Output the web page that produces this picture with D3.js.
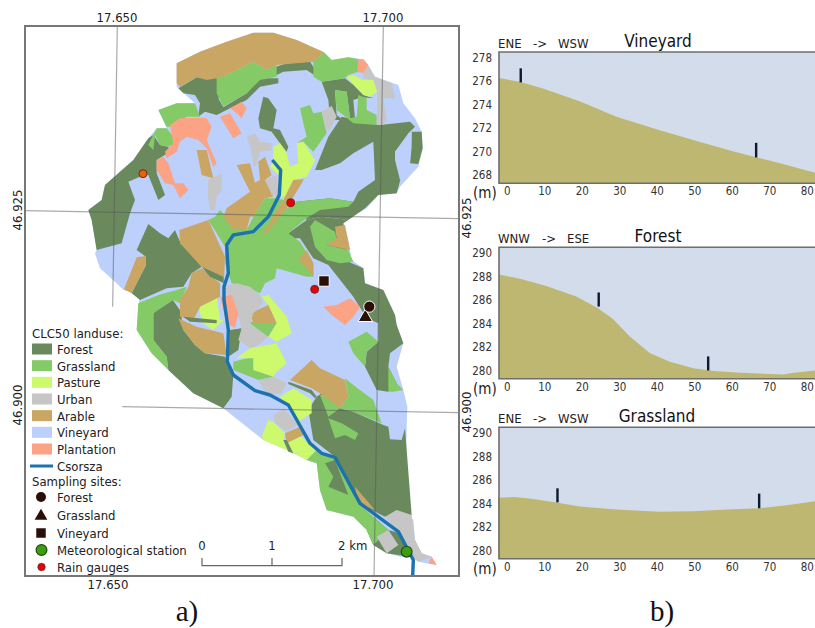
<!DOCTYPE html>
<html>
<head>
<meta charset="utf-8">
<script src="https://cdn.jsdelivr.net/npm/d3@7/dist/d3.min.js"></script>
<style>
    html, body { margin: 0; padding: 0; background: #fff; }
    text { font-family: "DejaVu Sans", sans-serif; font-stretch: condensed; }
    .serif { font-family: "Liberation Serif", serif; font-stretch: normal; }
</style>
</head>
<body>
<div id="chart"></div>
<script>
const outline = [[700,38],[760,38],[830,60],[912,97],[935,120],[985,112],[1030,118],[1045,135],[1065,170],[1135,195],[1150,250],[1185,295],[1205,335],[1208,385],[1195,440],[1140,500],[1130,520],[1075,525],[1040,565],[980,600],[970,610],[985,660],[995,720],[1030,745],[1035,790],[1090,810],[1125,885],[1130,915],[1150,970],[1130,1040],[1150,1110],[1162,1160],[1160,1225],[1155,1480],[1180,1500],[1185,1560],[1205,1600],[1235,1610],[1250,1635],[1195,1625],[1175,1610],[1140,1610],[1100,1600],[1060,1575],[1040,1530],[1000,1490],[920,1470],[900,1410],[890,1330],[860,1320],[800,1290],[730,1260],[610,1165],[520,1120],[445,1050],[395,1000],[350,930],[355,860],[360,825],[310,810],[290,790],[240,745],[225,700],[230,690],[215,600],[205,570],[245,540],[255,495],[340,420],[385,355],[410,325],[440,325],[415,270],[470,250],[525,250],[470,200],[470,130],[540,95],[620,65]];

const forest = [
    [[885,450],[925,350],[965,290],[1080,315],[1170,305],[1185,320],[1165,340],[1125,395],[1145,465],[1130,520],[1075,525],[1035,565],[985,600],[905,590],[860,600],[830,545]],
    [[985,600],[905,590],[860,600],[805,640],[805,655],[840,655],[880,715],[925,735],[1000,830],[1040,895],[1075,910],[1075,965],[1040,995],[1035,1040],[1070,1110],[1105,1115],[1130,1090],[1105,1040],[1110,1000],[1150,970],[1130,915],[1125,885],[1090,810],[1035,790],[1030,745],[985,725],[970,610]],
    [[475,205],[530,172],[590,172],[595,205],[610,210],[595,235],[610,262],[680,220],[720,175],[775,175],[775,190],[720,200],[680,240],[630,265],[590,285],[555,275],[535,290],[540,250],[525,225],[490,220]],
    [[205,570],[245,540],[255,495],[340,420],[385,355],[400,345],[420,375],[445,380],[450,395],[410,420],[410,460],[435,525],[415,540],[385,465],[360,470],[325,485],[345,540],[330,580],[305,670],[230,690],[215,600]],
    [[755,145],[800,130],[870,125],[890,155],[975,125],[975,135],[890,170],[860,150],[790,155],[770,165]],
    [[905,185],[975,175],[1000,195],[1030,225],[1060,235],[1025,232],[1000,240],[1005,295],[990,295],[980,215],[945,210],[950,285],[970,300],[930,300],[925,240]],
    [[1175,335],[1205,335],[1208,385],[1195,432],[1170,430],[1175,380]],
    [[730,230],[745,235],[770,270],[760,325],[780,330],[805,380],[800,395],[780,370],[755,335],[720,325],[715,295]],
    [[350,690],[385,612],[420,640],[445,655],[465,630],[480,665],[545,740],[515,760],[490,800],[440,805],[360,840],[335,820],[378,735],[378,710]],
    [[400,880],[455,835],[500,900],[480,860],[490,930],[525,975],[555,1000],[615,1010],[625,1035],[640,1065],[635,1130],[610,1165],[520,1120],[445,1050],[440,1010],[400,960],[400,890]],
    [[630,930],[665,925],[655,990],[625,1010]],
    [[865,1170],[890,1130],[905,1120],[960,1165],[1000,1175],[1090,1215],[1105,1220],[1110,1258],[1145,1260],[1155,1225],[1175,1485],[1130,1480],[1095,1490],[1015,1450],[945,1310],[880,1260]],
    [[805,1085],[875,1110],[890,1130],[885,1135],[870,1120],[805,1092]],
    [[1040,1530],[1060,1490],[1105,1530],[1140,1540],[1170,1610],[1100,1600],[1060,1575]]
];

const grassland = [
    [[590,172],[620,165],[700,125],[740,150],[770,135],[770,170],[720,180],[680,220],[610,260],[590,220]],
    [[415,270],[470,250],[525,250],[540,290],[500,290],[460,320],[440,320]],
    [[385,375],[410,325],[440,325],[460,350],[460,375],[440,380],[420,375],[405,345],[400,390]],
    [[880,125],[912,97],[935,120],[985,112],[1015,118],[1015,155],[985,165],[975,175],[905,185],[880,170]],
    [[945,210],[980,215],[990,295],[1010,290],[1015,225],[1040,235],[1040,270],[1070,285],[1070,315],[1000,310],[970,285],[950,270]],
    [[840,265],[870,255],[880,280],[905,275],[920,340],[880,395],[850,365],[830,370],[860,350],[850,310]],
    [[600,570],[620,590],[640,630],[680,630],[700,590],[735,535],[770,535],[790,540],[735,640],[800,565],[830,545],[930,535],[1000,545],[985,560],[900,570],[860,595],[805,640],[840,665],[880,730],[880,770],[860,770],[770,745],[765,775],[735,790],[720,820],[680,800],[635,790],[615,730],[615,680],[590,640],[565,600],[585,590]],
    [[870,620],[885,600],[945,635],[950,660],[920,675],[985,690],[1000,725],[960,730],[920,720],[885,680]],
    [[355,850],[415,825],[470,810],[500,800],[480,850],[460,840],[400,880],[400,960],[440,1010],[445,1050],[395,1000],[350,930]],
    [[640,1025],[700,1010],[700,1040],[760,1070],[715,1080],[640,1050]],
    [[690,905],[770,910],[745,950],[715,965],[700,925]],
    [[900,1125],[935,1120],[960,1165],[925,1190]],
    [[975,1075],[1000,1095],[1060,1140],[1085,1210],[1000,1175],[960,1165],[985,1130]],
    [[925,1195],[965,1210],[1015,1240],[1005,1260],[975,1245],[945,1255]],
    [[1105,1040],[1130,1090],[1150,1110],[1120,1115],[1105,1115]],
    [[985,965],[1040,935],[1075,965],[1040,995],[1035,1040],[1000,1000]],
    [[860,1320],[885,1290],[945,1310],[1015,1450],[1060,1490],[1105,1530],[1060,1575],[1040,1530],[1000,1490],[920,1470],[900,1410],[890,1330]]
];

const pasture = [
    [[760,380],[780,370],[800,400],[810,440],[835,430],[830,370],[850,365],[885,420],[860,470],[820,480],[795,530],[770,530],[782,450],[760,425]],
    [[750,440],[760,425],[782,450],[775,465]],
    [[980,170],[1000,165],[1030,180],[1060,180],[1072,215],[1050,230],[1030,225]],
    [[540,860],[590,825],[600,900],[610,900],[580,930],[550,910],[540,880]],
    [[725,830],[745,825],[800,890],[815,940],[770,965],[745,950],[770,910],[745,855]],
    [[650,1015],[690,985],[770,970],[800,1030],[770,1055],[760,1070],[700,1050],[700,1015]],
    [[780,1130],[820,1105],[875,1140],[875,1180],[835,1205],[800,1155]],
    [[725,1250],[745,1200],[765,1210],[795,1240],[790,1265],[815,1300],[890,1290],[860,1320],[800,1290],[730,1260]],
    [[800,1240],[845,1250],[885,1290],[815,1300]]
];

const urban = [
    [[565,480],[605,460],[605,510],[590,530],[585,570],[570,570],[563,520]],
    [[680,350],[705,340],[720,365],[755,370],[755,390],[720,395],[710,435],[700,440],[695,395]],
    [[737,480],[770,465],[775,530],[755,525]],
    [[905,275],[935,258],[950,290],[925,335],[915,320]],
    [[1030,150],[1045,140],[1065,170],[1115,190],[1125,235],[1090,235],[1100,300],[1090,315],[1070,315],[1072,215],[1060,180],[1030,175]],
    [[610,800],[650,790],[690,800],[720,825],[730,850],[700,880],[690,910],[745,950],[715,975],[690,985],[655,960],[665,925],[655,890],[640,860]],
    [[715,1080],[760,1070],[800,1090],[785,1120],[740,1125]],
    [[760,1185],[790,1165],[835,1215],[800,1235],[765,1210]],
    [[1095,1490],[1130,1470],[1175,1485],[1185,1560],[1205,1600],[1235,1610],[1195,1625],[1175,1610],[1135,1540]],
    [[1070,1550],[1105,1530],[1135,1575],[1100,1600]]
];

const arable = [
    [[470,130],[540,95],[620,65],[700,38],[760,38],[830,60],[912,97],[880,125],[770,135],[740,150],[700,125],[620,165],[590,175],[560,180],[530,172],[480,200],[470,190]],
    [[530,390],[560,390],[580,475],[545,465]],
    [[650,435],[690,430],[705,488],[720,480],[715,425],[735,410],[755,465],[735,480],[760,530],[735,535],[700,590],[690,590],[680,630],[640,630],[610,590],[620,565],[690,515]],
    [[820,480],[852,478],[800,565],[735,645],[730,640],[790,540]],
    [[945,620],[975,615],[990,690],[920,675],[950,655]],
    [[835,720],[860,690],[880,730],[880,770],[860,745]],
    [[350,712],[378,708],[378,735],[335,820],[312,808]],
    [[478,630],[565,600],[615,710],[612,780],[545,740],[480,670]],
    [[515,760],[545,745],[600,790],[600,830],[540,860],[520,900],[480,890],[480,840],[505,800]],
    [[475,895],[530,920],[610,940],[620,1005],[555,1000],[525,975],[490,930]],
    [[690,880],[745,855],[770,910],[700,910]],
    [[810,1080],[875,1020],[900,1045],[975,1080],[985,1130],[960,1165],[900,1120],[875,1105]],
    [[795,1240],[840,1220],[850,1245],[800,1270]],
    [[1005,1400],[1065,1470],[1015,1450]]
];

const plantation = [
    [[450,315],[480,295],[545,293],[560,295],[575,320],[560,360],[590,430],[580,440],[560,385],[535,360],[500,350],[480,365],[470,395],[440,415],[435,395],[460,370]],
    [[410,420],[430,410],[445,430],[465,490],[490,490],[505,510],[480,535],[460,495],[435,490],[410,450]],
    [[600,290],[630,280],[665,340],[640,355]],
    [[630,265],[665,245],[680,265],[665,295],[650,280]],
    [[1015,118],[1030,118],[1045,135],[1030,160],[1012,155]],
    [[600,830],[635,825],[655,880],[645,925],[620,910],[610,870]],
    [[910,860],[950,855],[990,835],[1020,860],[1000,890],[975,915],[935,885]],
    [[1235,1610],[1250,1635],[1225,1630]]
];

// vineyard patches that lie inside the big forest block
const vineyard = [
    [[885,450],[905,450],[960,430],[1000,400],[1060,365],[1065,480],[1015,515],[1000,545],[930,535],[830,545],[850,478],[860,470]],
    [[1125,395],[1175,335],[1170,430],[1195,440],[1140,480],[1125,420]]
];
// dark branches that sit on top of the grassland
const forestOnGrass = [
    [[490,890],[590,900],[590,910],[510,905]],
    [[545,740],[610,770],[612,790],[570,770]],
    [[790,1260],[800,1260],[820,1300],[805,1295]],
    [[915,1330],[945,1320],[960,1360],[985,1425],[925,1400],[940,1370]]
];

const csorsza = [[757,420],[782,450],[778,525],[745,590],[700,635],[640,645],[620,675],[625,760],[612,800],[612,840],[625,930],[622,1025],[640,1065],[705,1112],[750,1125],[805,1155],[870,1270],[905,1300],[945,1312],[1020,1450],[1135,1535],[1180,1620],[1178,1668]];

const rainGauges = [[369,461,'#f06000'],[812,548,'#e8000b'],[884,808,'#e8000b']];
const forestSite = [1048,860];
const grasslandSite = [1036,892];
const vineyardSite = [912,783];
const metStation = [1160,1595];

// graticule, slightly tilted in the map
const meridians = [[[292,18],[278,860]],[[1090,18],[1062,1670]]];
const parallels = [[[15,572],[1315,596]],[[307,1160],[1315,1178]]];

const landColors = {Forest:'#6a8a5e',Grassland:'#84cb68',Pasture:'#cdf96c',Urban:'#c6c6c6',Arable:'#c9a664',Vineyard:'#bcd0fb',Plantation:'#fba384'};
const landClasses = ['Forest','Grassland','Pasture','Urban','Arable','Vineyard','Plantation'];
const siteLabels = ['Forest','Grassland','Vineyard','Meteorological station','Rain gauges'];

// terrain profiles: distance (m) and elevation (m)
const profileDist = {
    Vineyard: [-2.1,3.4,9.6,19.4,29.2,39.9,49.7,59.5,66.7,72.9,82.3],
    Forest: [-2.1,3.8,10.5,18.5,24.3,28.3,32.8,38.1,43.5,49.7,55.1,62.2,73.8,76.5,82.3],
    Grassland: [-2.3,2,6,13.2,19.4,29.2,40.8,49.7,58.6,67.6,74.7,82.3]
};
const profileElev = {
    Vineyard: [276.27,275.95,275.39,274.3,272.97,271.9,271.0,270.1,269.5,269.0,268.2],
    Forest: [288.18,287.8,287.2,286.3,285.3,284.4,282.9,281.5,280.75,280.2,279.95,279.8,279.65,279.8,280.0],
    Grassland: [284.5,284.55,284.43,284.1,283.75,283.5,283.3,283.35,283.5,283.6,283.85,284.2]
};
// sample posts: distance, foot, head
const posts = {
    Vineyard: [[3.7,275.9,277.1],[66.5,269.5,270.75]],
    Forest: [[24.5,285.45,286.65],[53.7,280.0,281.2]],
    Grassland: [[13.5,284.1,285.3],[67.3,283.6,284.85]]
};
const directions = {Vineyard:['ENE','WSW'],Forest:['WNW','ESE'],Grassland:['ENE','WSW']};
const elevTicks = {Vineyard:[268,270,272,274,276,278],Forest:[280,282,284,286,288,290],Grassland:[280,282,284,286,288,290]};
const elevBottom = {Vineyard:267.3,Forest:279.3,Grassland:279.3};
const distTicks = [0,10,20,30,40,50,60,70,80];

const svg = d3.select('#chart').append('svg').attr('width',815).attr('height',628).style('display','block');

const sx = d3.scaleLinear().domain([0,1290]).range([20,450]);
const sy = d3.scaleLinear().domain([0,1740]).range([20,600]);
const ring = d3.line().x(d => sx(d[0])).y(d => sy(d[1]));
const closed = d => ring(d) + 'Z';

const mapG = svg.append('g');
mapG.append('path').attr('d',closed(outline)).attr('fill',landColors.Vineyard);

// painter's order: lower layers first
const layers = [['Forest',forest],['Vineyard',vineyard],['Grassland',grassland],['Pasture',pasture],['Arable',arable],['Urban',urban],['Plantation',plantation],['Forest',forestOnGrass]];
layers.forEach(function(l){
    mapG.append('g').selectAll('path').data(l[1]).enter().append('path')
        .attr('d',closed).attr('fill',landColors[l[0]]);
});

mapG.append('path').attr('d',ring(csorsza)).attr('fill','none')
    .attr('stroke','#1c72ad').attr('stroke-width',3.4).attr('stroke-linejoin','round');

// graticule over the map
svg.append('g').selectAll('path').data(meridians.concat(parallels)).enter().append('path')
    .attr('d',ring).attr('stroke','#555').attr('stroke-opacity',0.5).attr('stroke-width',1.2).attr('fill','none');

// sites
const dark = '#2a0f08';
svg.append('g').selectAll('circle').data(rainGauges).enter().append('circle')
    .attr('cx',d => sx(d[0])).attr('cy',d => sy(d[1])).attr('r',4)
    .attr('fill',d => d[2]).attr('stroke','#6d2a20').attr('stroke-width',1);
const symbol = d3.symbol();
function square(g,x,y,size){
    g.append('path').attr('transform','translate('+x+','+y+')').attr('d',symbol.type(d3.symbolSquare).size(size)());
}
function triangle(g,x,y,size){
    g.append('path').attr('transform','translate('+x+','+y+')').attr('d',symbol.type(d3.symbolTriangle).size(size)());
}
const sites = svg.append('g').attr('fill',dark).attr('stroke','#fff').attr('stroke-width',1);
triangle(sites,sx(grasslandSite[0]),sy(grasslandSite[1]),90);
sites.append('circle').attr('cx',sx(forestSite[0])).attr('cy',sy(forestSite[1])).attr('r',5.6);
square(sites,sx(vineyardSite[0]),sy(vineyardSite[1]),110);
svg.append('circle').attr('cx',sx(metStation[0])).attr('cy',sy(metStation[1])).attr('r',5.4)
    .attr('fill','#3c9e0e').attr('stroke','#1f4a14').attr('stroke-width',1.2);

// frame
svg.append('rect').attr('x',25).attr('y',26).attr('width',434).attr('height',550)
    .attr('fill','none').attr('stroke','#777').attr('stroke-width',2);

// coordinate labels
function label(x,y,str,rot){
    const t = svg.append('text').attr('text-anchor','middle').attr('dominant-baseline','middle')
        .attr('fill','#222').attr('font-size',13).text(str);
    t.attr('transform','translate('+x+','+y+')'+(rot ? ' rotate(-90)' : ''));
}
label(117,18,'17.650'); label(383,18,'17.700');
label(108,585,'17.650'); label(373,585,'17.700');
label(18,210,'46.925',true); label(18,405,'46.900',true);
label(467,218,'46.925',true); label(467,412,'46.900',true);

// legend
const lg = svg.append('g').attr('font-size',13).attr('fill','#222');
lg.append('text').attr('x',32).attr('y',338).text('CLC50 landuse:');
const rowY = d3.scaleLinear().domain([0,6]).range([349,449]);
landClasses.forEach(function(c,i){
    lg.append('rect').attr('x',32).attr('y',rowY(i)-5.5).attr('width',20).attr('height',11).attr('fill',landColors[c]);
    lg.append('text').attr('x',57).attr('y',rowY(i)+5).text(c);
});
lg.append('line').attr('x1',30).attr('x2',53).attr('y1',466).attr('y2',466).attr('stroke','#1c72ad').attr('stroke-width',3);
lg.append('text').attr('x',57).attr('y',471).text('Csorsza');
lg.append('text').attr('x',32).attr('y',486).text('Sampling sites:');
const siteRows = [497,515,533,550,567];
siteLabels.forEach(function(s,i){
    lg.append('text').attr('x',57).attr('y',siteRows[i]+5).text(s);
});
lg.append('circle').attr('cx',41).attr('cy',siteRows[0]).attr('r',5).attr('fill',dark);
triangle(lg.append('g').attr('fill',dark),41,siteRows[1]+1,70);
square(lg.append('g').attr('fill',dark),41,siteRows[2],90);
lg.append('circle').attr('cx',41.5).attr('cy',siteRows[3]).attr('r',5.4).attr('fill','#3c9e0e').attr('stroke','#1f4a14').attr('stroke-width',1.2);
lg.append('circle').attr('cx',41.5).attr('cy',siteRows[4]).attr('r',3.7).attr('fill','#e8000b').attr('stroke','#6d2a20').attr('stroke-width',.8);

// scale bar
const kmScale = d3.scaleLinear().domain([0,2]).range([202,342]);
const sb = svg.append('g').attr('stroke','#666').attr('stroke-width',1.2).attr('fill','none');
sb.append('path').attr('d','M'+kmScale(0)+',558V565.7H'+kmScale(2)+'V558M'+kmScale(1)+',558V565.7');
[0,1].forEach(function(k){
    svg.append('text').attr('x',kmScale(k)).attr('y',550).attr('text-anchor','middle').attr('font-size',13).attr('fill','#222').text(k);
});
svg.append('text').attr('x',338).attr('y',550).attr('font-size',13).attr('fill','#222').text('2 km');

// profiles, one per site
const profileTop = {Vineyard:52,Forest:247.3,Grassland:427.3};
const profileBottom = {Vineyard:183.3,Forest:378.7,Grassland:558.7};
const titleY = {Vineyard:47,Forest:242,Grassland:422};
const titleX = {Vineyard:658,Forest:658,Grassland:657};
const headX = {Vineyard:[498,533,558],Forest:[498,542,567],Grassland:[498,533,558]};
['Vineyard','Forest','Grassland'].forEach(function(name){
    const top = profileTop[name], bottom = profileBottom[name];
    const x = d3.scaleLinear().domain([-2.1,82.2]).range([499,815]);
    const y = d3.scaleLinear().domain([elevBottom[name],elevBottom[name]+(bottom-top)/11.73]).range([bottom,top]);
    const g = svg.append('g');
    g.append('rect').attr('x',499).attr('y',top).attr('width',316).attr('height',bottom-top).attr('fill','#d2dcea');
    const area = d3.area().x(d => x(d[0])).y0(bottom).y1(d => y(d[1]));
    g.append('path').attr('d',area(d3.zip(profileDist[name],profileElev[name]))).attr('fill','#bdb772');
    g.selectAll('.post').data(posts[name]).enter().append('line').attr('class','post')
        .attr('x1',d => x(d[0])).attr('x2',d => x(d[0])).attr('y1',d => y(d[1])).attr('y2',d => y(d[2]))
        .attr('stroke','#0b1a30').attr('stroke-width',2.4);
    g.append('path').attr('d','M815,'+top+'H499V'+bottom+'H815').attr('fill','none').attr('stroke','#6e6e6e').attr('stroke-width',1.6);

    const yAxis = g.append('g').attr('transform','translate(499,0)')
        .call(d3.axisLeft(y).tickValues(elevTicks[name]).tickSize(0).tickPadding(7));
    const xAxis = g.append('g').attr('transform','translate(0,'+bottom+')')
        .call(d3.axisBottom(x).tickValues(distTicks).tickSize(0).tickPadding(4));
    yAxis.select('.domain').remove();
    xAxis.select('.domain').remove();
    [yAxis,xAxis].forEach(function(a){
        a.selectAll('text').attr('fill','#333').style('font-size','11.5px').style('font-family','"DejaVu Sans", sans-serif').style('font-stretch','condensed');
    });

    g.append('text').attr('x',473).attr('y',bottom+15).attr('font-size',15).attr('fill','#222').text('(m)');
    const head = g.append('g').attr('font-size',13).attr('fill','#222');
    head.append('text').attr('x',headX[name][0]).attr('y',top-4).text(directions[name][0]);
    head.append('text').attr('x',headX[name][1]).attr('y',top-4).text('->');
    head.append('text').attr('x',headX[name][2]).attr('y',top-4).text(directions[name][1]);
    g.append('text').attr('x',titleX[name]).attr('y',titleY[name]).attr('text-anchor','middle')
        .attr('font-size',17).attr('fill','#111').text(name);
});

svg.append('text').attr('class','serif').attr('x',187).attr('y',621).attr('text-anchor','middle').attr('font-size',29).attr('fill','#111').text('a)');
svg.append('text').attr('class','serif').attr('x',662).attr('y',621).attr('text-anchor','middle').attr('font-size',29).attr('fill','#111').text('b)');
</script>
</body>
</html>
